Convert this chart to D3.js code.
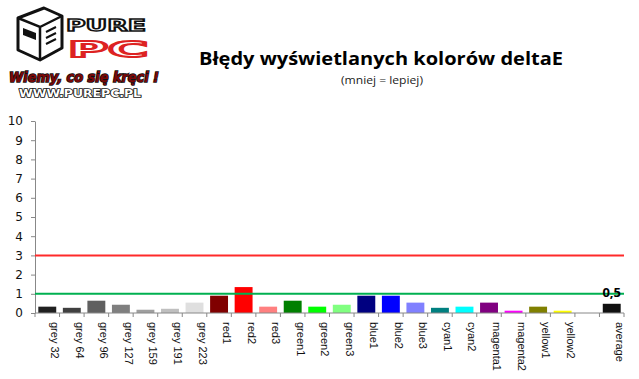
<!DOCTYPE html>
<html><head><meta charset="utf-8">
<script src="https://cdn.jsdelivr.net/npm/d3@7"></script>
<style>body{margin:0;background:#fff}svg{display:block}</style>
</head><body>
<svg id="c" width="639" height="379"></svg>
<script>
const categories = ["grey 32","grey 64","grey 96","grey 127","grey 159","grey 191","grey 223","red1","red2","red3","green1","green2","green3","blue1","blue2","blue3","cyan1","cyan2","magenta1","magenta2","yellow1","yellow2"," ","average"];
const values = [0.33,0.27,0.64,0.43,0.17,0.22,0.54,0.90,1.35,0.33,0.64,0.33,0.43,0.90,0.90,0.54,0.27,0.33,0.54,0.12,0.33,0.12,null,0.48];
const barColors = ["#202020","#404040","#606060","#7f7f7f","#9f9f9f","#bfbfbf","#dfdfdf","#800000","#ff0000","#ff8080","#008000","#00ff00","#80ff80","#000080","#0000ff","#8080ff","#008080","#00ffff","#800080","#ff00ff","#808000","#ffff00","#fff","#111111"];
const yTicks = [0,1,2,3,4,5,6,7,8,9,10];
const refLines = [{v:3,color:"#ff2a2a"},{v:1,color:"#00b050"}];
const averageLabel = "0,5";

const svg = d3.select("#c");
const x = d3.scaleBand().domain(categories).range([35,624]).paddingInner(0.27).paddingOuter(0.135);
const y = d3.scaleLinear().domain([0,10]).range([313,121]);

// Title
svg.append("text").attr("x",381).attr("y",65).attr("text-anchor","middle")
  .attr("font-family","'Open Sans',sans-serif").attr("font-weight","bold").attr("font-size","17.5px")
  .attr("textLength",364).attr("lengthAdjust","spacingAndGlyphs")
  .text("Błędy wyświetlanych kolorów deltaE");
svg.append("text").attr("x",382).attr("y",84).attr("text-anchor","middle")
  .attr("font-family","'Open Sans',sans-serif").attr("font-size","11px").attr("fill","#222")
  .attr("textLength",82).attr("lengthAdjust","spacingAndGlyphs")
  .text("(mniej = lepiej)");

// Y axis
const ya = svg.append("g").attr("transform","translate(35,0)")
  .call(d3.axisLeft(y).tickValues(yTicks).tickSize(4).tickPadding(8).tickSizeOuter(0));
ya.select(".domain").attr("stroke","#888");
ya.selectAll(".tick line").attr("stroke","#888");
ya.selectAll(".tick text").attr("font-family","Verdana,'DejaVu Sans',sans-serif").attr("font-size","12px").attr("fill","#111");

// Bars
svg.append("g").selectAll("rect").data(categories.map((c,i)=>({c,v:values[i],col:barColors[i]})).filter(d=>d.v!==null))
  .join("rect")
  .attr("x",d=>x(d.c)).attr("width",x.bandwidth())
  .attr("y",d=>y(d.v)).attr("height",d=>y(0)-y(d.v))
  .attr("fill",d=>d.col);

// Reference lines
svg.append("g").selectAll("line").data(refLines).join("line")
  .attr("x1",35).attr("x2",624).attr("y1",d=>y(d.v)).attr("y2",d=>y(d.v))
  .attr("stroke",d=>d.color).attr("stroke-width",2);

// X axis
const xa = svg.append("g").attr("transform","translate(0,313)");
xa.append("line").attr("x1",35).attr("x2",624).attr("stroke","#888");
const bounds = d3.range(categories.length+1).map(i=>35+i*(589/categories.length));
xa.selectAll("line.t").data(bounds).join("line").attr("class","t")
  .attr("x1",d=>d).attr("x2",d=>d).attr("y1",0).attr("y2",4).attr("stroke","#888");
xa.selectAll("text").data(categories).join("text")
  .attr("transform",d=>`translate(${x(d)+x.bandwidth()/2+4},9) rotate(90)`)
  .attr("font-family","'Liberation Sans',Arial,sans-serif").attr("font-size","11px").attr("fill","#111")
  .text(d=>d);

// Average label
svg.append("text").attr("x",x("average")+x.bandwidth()/2).attr("y",y(values[23])-7)
  .attr("text-anchor","middle").attr("font-family","'Open Sans',sans-serif").attr("font-weight","bold")
  .attr("font-size","13px").text(averageLabel);

// Logo
const lg = svg.append("g");
lg.append("path").attr("d","M18,18 L44,8 L62,16 L62,48 L40,60 L18,50 Z").attr("fill","#fff").attr("stroke","#111").attr("stroke-width",3).attr("stroke-linejoin","round");
lg.append("path").attr("d","M18,18 L40,27 L62,16 M40,27 L40,60").attr("fill","none").attr("stroke","#111").attr("stroke-width",2.5);
lg.append("path").attr("d","M23,28 L36,33 L36,40 L23,35 Z").attr("fill","#111");
lg.append("path").attr("d","M46,32 L56,27 M46,38 L56,33 M46,44 L56,39").attr("stroke","#111").attr("stroke-width",2);
lg.append("text").attr("x",106).attr("y",31).attr("text-anchor","middle")
  .attr("font-family","'DejaVu Sans',sans-serif").attr("font-weight","bold").attr("font-size","16px")
  .attr("textLength",80).attr("lengthAdjust","spacingAndGlyphs")
  .attr("fill","#fff").attr("stroke","#111").attr("stroke-width",1.5).text("PURE");
lg.append("text").attr("x",108).attr("y",57).attr("text-anchor","middle")
  .attr("font-family","'DejaVu Sans',sans-serif").attr("font-weight","bold").attr("font-size","21px")
  .attr("textLength",80).attr("lengthAdjust","spacingAndGlyphs")
  .attr("fill","#fff").attr("stroke","#d22").attr("stroke-width",2).text("PC");
lg.append("text").attr("x",84).attr("y",82).attr("text-anchor","middle")
  .attr("font-family","'DejaVu Sans',sans-serif").attr("font-weight","bold").attr("font-style","italic").attr("font-size","14px")
  .attr("textLength",150).attr("lengthAdjust","spacingAndGlyphs")
  .attr("fill","#7a0808").attr("stroke","#111").attr("stroke-width",1.6).attr("paint-order","stroke").text("Wiemy, co się kręci !");
lg.append("text").attr("x",80).attr("y",97).attr("text-anchor","middle")
  .attr("font-family","'DejaVu Sans',sans-serif").attr("font-weight","bold").attr("font-size","10px")
  .attr("textLength",122).attr("lengthAdjust","spacingAndGlyphs")
  .attr("fill","#fff").attr("stroke","#111").attr("stroke-width",1.5).attr("paint-order","stroke").text("WWW.PUREPC.PL");
</script>
</body></html>
